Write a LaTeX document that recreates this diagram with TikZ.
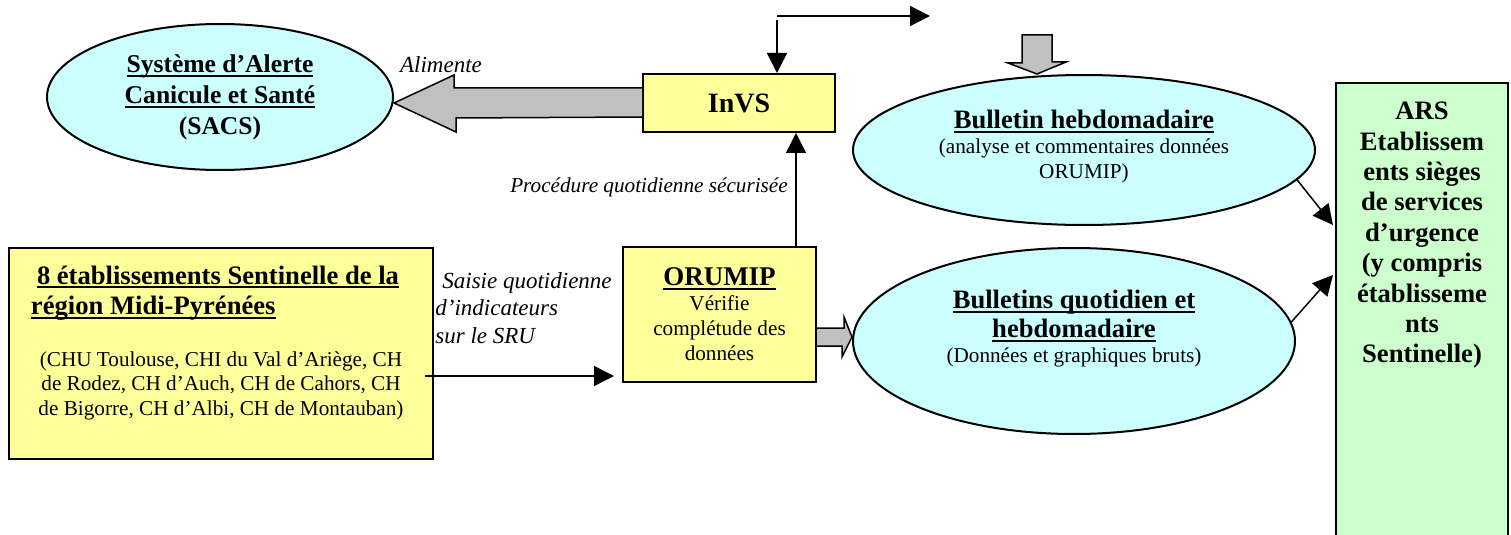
\documentclass[tikz,border=0pt]{standalone}
\usepackage{fontspec}
\setmainfont{Liberation Serif}
\usepackage{tikz}
\usetikzlibrary{arrows.meta,calc,shapes.geometric}
\definecolor{boxyellow}{HTML}{FFFF99}
\definecolor{ellcyan}{HTML}{CCFFFF}
\definecolor{boxgreen}{HTML}{CCFFCC}
\definecolor{arrowgray}{HTML}{C0C0C0}
\newcommand{\hdfont}{\fontsize{13.3}{15.5}\selectfont\bfseries}
\newcommand{\smfont}{\fontsize{10.6}{12.5}\selectfont}
\newcommand{\ulbox}[1]{\leavevmode\setbox0=\hbox{#1}\rlap{\vrule height -1.2pt depth 2.2pt width \wd0}\box0}
\tikzset{
    Ynode/.style = {
       shape=rectangle,
       align=center,
       draw, line width=1pt,
       fill = boxyellow
    },
    Cnode/.style = {
       shape=ellipse,
       align=center,
       inner sep=0pt,
       draw, line width=1pt,
       fill = ellcyan
    },
    Gnode/.style = {
       shape=rectangle,
       draw, line width=1pt,
       fill = boxgreen
    },
    lbl/.style = {
       font=\fontsize{11.5}{13.75}\selectfont\itshape,
       align=left, inner sep=0pt
    },
    link/.style = {draw, line width=0.75pt, -{Triangle[length=10pt,width=10pt]}},
    block/.style = {draw, line width=0.75pt, fill=arrowgray, line join=miter}
}

\begin{document}
\begin{tikzpicture}[x=0.5pt,y=-0.5pt]
   \useasboundingbox (0,0) rectangle (1511,535);
   \node[Cnode, minimum width=173pt, minimum height=73pt, font=\fontsize{12.8}{15.5}\selectfont\bfseries] (Sacs) at (220,97)
      {\ulbox{Système d’Alerte}\\ \ulbox{Canicule et Santé}\\ (SACS)};
   \node[Ynode, minimum width=96pt, minimum height=29pt, font=\fontsize{14}{16}\selectfont\bfseries] (InVS) at (739,103) {InVS};
   \node[Ynode, minimum width=96.5pt, minimum height=67.5pt, font=\smfont] (Orumip) at (719.5,314.5)
      {{\fontsize{13.5}{15}\selectfont\bfseries\ulbox{ORUMIP}}\\ Vérifie\\ complétude des\\ données};
   \node[Ynode, anchor=north west, inner xsep=11pt, inner ysep=6pt] (Sentinelle) at (8,247)
      {\parbox[t][93.5pt][t]{190pt}{{\hdfont\rule{0pt}{12pt}\hspace*{3pt}\ulbox{8 établissements Sentinelle de la}\\
       \ulbox{région Midi-Pyrénées}\par}\vspace{13pt}
       {\centering\smfont (CHU Toulouse, CHI du Val d’Ariège, CH\\ de Rodez, CH d’Auch, CH de Cahors, CH\\
       de Bigorre, CH d’Albi, CH de Montauban)\par}}};
   \node[Cnode, minimum width=231pt, minimum height=75pt, font=\smfont] (BulletinHebdo) at (1084,150)
      {{\hdfont\ulbox{Bulletin hebdomadaire}}\\ (analyse et commentaires données\\ ORUMIP)\rule[-6pt]{0pt}{6pt}};
   \node[Cnode, minimum width=221pt, minimum height=93pt, font=\smfont] (BulletinQuotid) at (1074,341)
      {{\hdfont\ulbox{Bulletins quotidien et}}\\[2pt] {\hdfont\ulbox{hebdomadaire}}\\ (Données et graphiques bruts)\rule[-15pt]{0pt}{15pt}};
   \node[Gnode, anchor=north west, inner xsep=3pt, inner ysep=9.5pt] (Ars) at (1335,82)
      {\parbox[t][212.5pt][t]{80pt}{\centering\fontsize{13.3}{15.2}\selectfont\bfseries ARS\\ Etablissem\\ ents sièges\\
       de services\\ d’urgence\\ (y compris\\ établisseme\\ nts\\ Sentinelle)}};
   \node[lbl] (Alimente) at (441,65) {Alimente};
   \node[lbl, font=\fontsize{10.6}{12.5}\selectfont\itshape] (Procedure) at (649,187) {Procédure quotidienne sécurisée};
   \node[lbl, anchor=west] (Saisie) at (435,308) {\hspace*{3.5pt}Saisie quotidienne\\ d’indicateurs\\ sur le SRU};
   % gray block arrows
   \draw[block] ($(InVS.west)+(0,-15)$) -- ++(-188,0) -- ++(0,-13) -- (Sacs.east |- InVS.west)
      -- ++(62,29) -- ++(0,-14) -- ($(InVS.west)+(0,14)$);
   \coordinate (HebdoIn) at (1037,35);
   \draw[block] ($(HebdoIn)+(-15,0)$) -- ++(0,28) -- ++(-14,0) -- (HebdoIn |- BulletinHebdo.north)
      -- ++(29,-12) -- ++(-14,0) -- ($(HebdoIn)+(15,0)$) -- cycle;
   \coordinate (OrumipOut) at ($(Orumip.east)+(0,22.5)$);
   \draw[block] ($(OrumipOut)+(0,-9)$) -- ++(27,0) -- ++(0,-11) -- (BulletinQuotid.west |- OrumipOut)
      -- ++(-10,20) -- ++(0,-11) -- ($(OrumipOut)+(0,9)$);
   % thin arrows
   \coordinate (TopStart) at (777,16);
   \coordinate (TopEnd) at (930,16);
   \coordinate (DownStart) at (777,20);
   \coordinate (UpStart) at ([xshift=38.25pt]Orumip.north);
   \coordinate (SaisieStart) at ($(Sentinelle.east)+(-9,22.5)$);
   \draw[link] (TopStart) -- (TopEnd);
   \draw[link] (DownStart) -- (DownStart |- InVS.north);
   \draw[link] (UpStart) -- (UpStart |- InVS.south);
   \draw[link] (SaisieStart) -- ($(SaisieStart -| Orumip.west)+(-8,0)$);
   \draw[link] (BulletinHebdo.-8) -- ($(Ars.north west)+(-2,143)$);
   \draw[link] (BulletinQuotid.5) -- ($(Ars.north west)+(-2,193)$);
\end{tikzpicture}
\end{document}
